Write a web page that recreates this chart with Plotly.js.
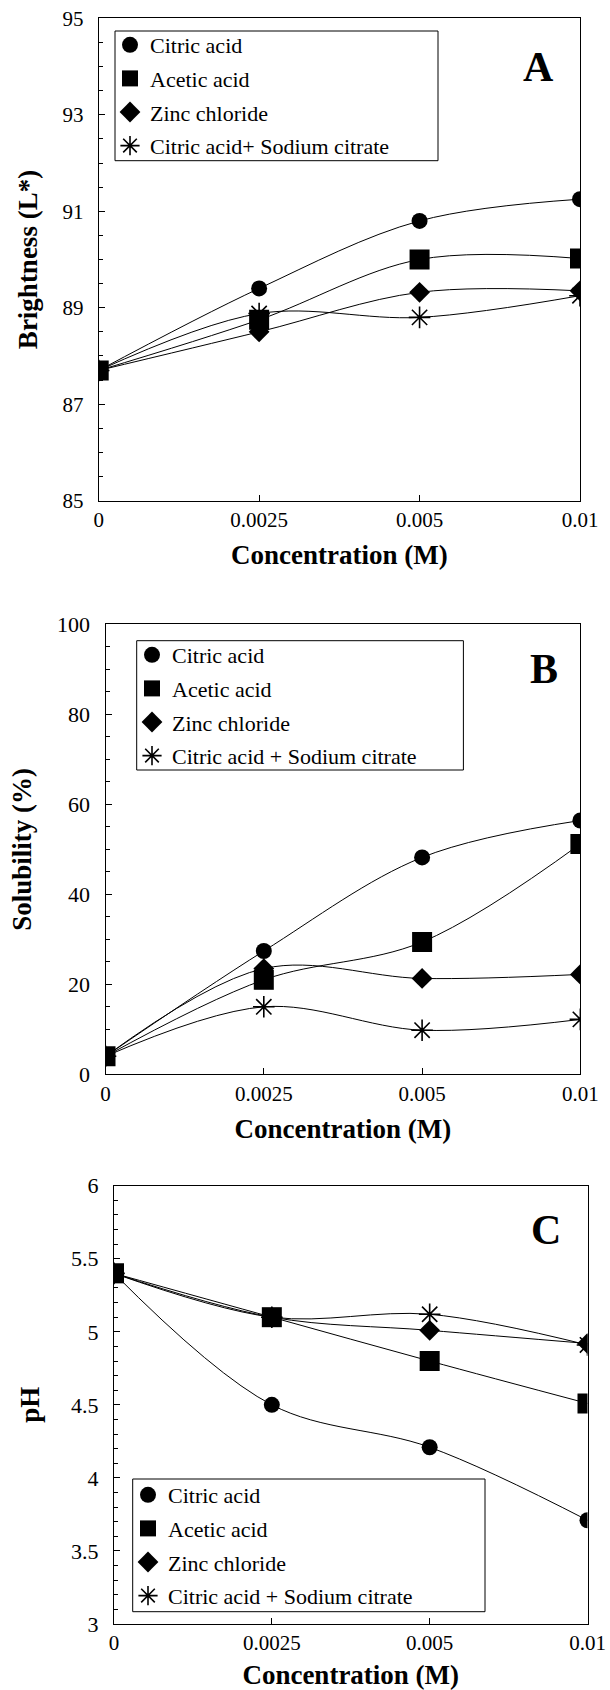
<!DOCTYPE html>
<html>
<head>
<meta charset="utf-8">
<script src="https://cdn.plot.ly/plotly-3.0.1.min.js"></script>
<style>html,body{margin:0;padding:0;background:#fff;}#chart{width:610px;height:1690px;}</style>
</head>
<body>
<div id="chart"></div>
<script>
// ---- data ----
const concentrations = ['0', '0.0025', '0.005', '0.01'];
const seriesNames = ['Citric acid', 'Acetic acid', 'Zinc chloride', 'Citric acid + Sodium citrate'];
const seriesNamesA = ['Citric acid', 'Acetic acid', 'Zinc chloride', 'Citric acid+ Sodium citrate'];

// Panel A: Brightness (L*)
const brightCitric = [87.7, 89.4, 90.8, 91.25];
const brightAcetic = [87.7, 88.75, 90.0, 90.02];
const brightZinc   = [87.7, 88.5, 89.32, 89.35];
const brightCitrate = [87.7, 88.88, 88.8, 89.25];

// Panel B: Solubility (%)
const solCitric = [4, 27.4, 48.2, 56.4];
const solAcetic = [4, 21, 29.4, 51.2];
const solZinc   = [4, 23.5, 21.3, 22.2];
const solCitrate = [4, 15, 9.8, 12.2];

// Panel C: pH
const phCitric = [5.4, 4.5, 4.21, 3.71];
const phAcetic = [5.4, 5.1, 4.8, 4.51];
const phZinc   = [5.4, 5.1, 5.01, 4.92];
const phCitrate = [5.4, 5.1, 5.12, 4.91];

const yTicksA = [85, 87, 89, 91, 93, 95];
const yTicksB = [0, 20, 40, 60, 80, 100];
const yTicksC = [3, 3.5, 4, 4.5, 5, 5.5, 6];

// ---- styling ----
const FONT = 'Liberation Serif';
const W = 610, H = 1690;
const px = v => v / W;
const py = v => 1 - v / H;

const markerStyles = [
  {symbol: 'circle', size: 16, color: '#000'},
  {symbol: 'square', size: 20, color: '#000'},
  {symbol: 'diamond', size: 16, color: '#000'},
  {symbol: 'asterisk-open', size: 18, color: '#000', line: {color: '#000', width: 1.6}}
];
// draw order for markers: circle, diamond, star, square (square on top)
const drawOrder = [0, 2, 3, 1];

const panels = [
  {xa: 'x', ya: 'y', legend: 'legend', names: seriesNamesA, data: [brightCitric, brightAcetic, brightZinc, brightCitrate]},
  {xa: 'x2', ya: 'y2', legend: 'legend2', names: seriesNames, data: [solCitric, solAcetic, solZinc, solCitrate]},
  {xa: 'x3', ya: 'y3', legend: 'legend3', names: seriesNames, data: [phCitric, phAcetic, phZinc, phCitrate]}
];

const traces = [];
panels.forEach(p => {
  p.data.forEach((ys, i) => {
    traces.push({
      x: concentrations, y: ys, xaxis: p.xa, yaxis: p.ya,
      mode: 'lines', line: {color: '#000', width: 1, shape: 'spline', smoothing: 1},
      showlegend: false, hoverinfo: 'skip'
    });
  });
  drawOrder.forEach(i => {
    traces.push({
      x: concentrations, y: p.data[i], xaxis: p.xa, yaxis: p.ya,
      mode: 'markers', name: p.names[i], marker: markerStyles[i],
      legend: p.legend, legendgroup: p.legend + '_' + i, legendrank: i + 1, showlegend: true
    });
  });
});

function xAxis(domain, anchor) {
  return {
    domain: domain, anchor: anchor, type: 'category', range: [0, 3],
    showline: true, mirror: true, linecolor: '#000', linewidth: 1,
    ticks: 'inside', ticklen: 6, tickcolor: '#000', showgrid: false, zeroline: false,
    tickfont: {family: FONT, size: 21, color: '#000'}, ticklabelstandoff: 0,
    title: {text: 'Concentration (M)', font: {family: FONT, size: 27, color: '#000', weight: 'bold'}, standoff: 14},
    automargin: false
  };
}
function yAxis(domain, anchor, range, tickvals, minorDtick, title, standoff, size) {
  return {
    domain: domain, anchor: anchor, range: range, tickmode: 'array', tickvals: tickvals,
    showline: true, mirror: true, linecolor: '#000', linewidth: 1,
    ticks: 'inside', ticklen: 6, tickcolor: '#000', showgrid: false, zeroline: false,
    minor: {dtick: minorDtick, ticks: 'inside', ticklen: 4, tickcolor: '#000', showgrid: false},
    tickfont: {family: FONT, size: size, color: '#000'}, ticklabelstandoff: 10,
    title: {text: title, font: {family: FONT, size: 27, color: '#000', weight: 'bold'}, standoff: standoff},
    automargin: false
  };
}

function legendAt(x, y) {
  return {
    x: px(x), y: py(y), xanchor: 'left', yanchor: 'top', xref: 'paper', yref: 'paper',
    bgcolor: 'rgba(0,0,0,0)', borderwidth: 0,
    font: {family: FONT, size: 22, color: '#000'},
    traceorder: 'grouped', tracegroupgap: 2, itemclick: false
  };
}

const layout = {
  width: W, height: H, margin: {l: 0, r: 0, t: 0, b: 0},
  paper_bgcolor: '#fff', plot_bgcolor: '#fff', showlegend: true,
  font: {family: FONT, color: '#000'},
  xaxis: xAxis([px(98.7), px(580)], 'y'),
  yaxis: yAxis([py(500.7), py(18.3)], 'x', [85, 95], yTicksA, 0.5, 'Brightness (L*)', 17, 21),
  xaxis2: xAxis([px(105.5), px(580.4)], 'y2'),
  yaxis2: yAxis([py(1074.3), py(624.3)], 'x2', [0, 100], yTicksB, 5, 'Solubility (%)', 17, 22),
  xaxis3: xAxis([px(114), px(587.5)], 'y3'),
  yaxis3: yAxis([py(1624), py(1185.7)], 'x3', [3, 6], yTicksC, 0.1, 'pH', 23, 22),
  legend: legendAt(110, 24),
  legend2: legendAt(132, 634),
  legend3: legendAt(128, 1474),
  shapes: [
    {type: 'rect', xref: 'paper', yref: 'paper', x0: px(115), x1: px(438), y0: py(160.7), y1: py(31), line: {color: '#000', width: 1}, fillcolor: 'rgba(0,0,0,0)', layer: 'below'},
    {type: 'rect', xref: 'paper', yref: 'paper', x0: px(136.7), x1: px(463.4), y0: py(770), y1: py(640.7), line: {color: '#000', width: 1}, fillcolor: 'rgba(0,0,0,0)', layer: 'below'},
    {type: 'rect', xref: 'paper', yref: 'paper', x0: px(132.7), x1: px(485), y0: py(1611.7), y1: py(1479), line: {color: '#000', width: 1}, fillcolor: 'rgba(0,0,0,0)', layer: 'below'}
  ],
  annotations: [
    {text: 'A', x: px(538.6), y: py(67), xref: 'paper', yref: 'paper', showarrow: false, xanchor: 'center', yanchor: 'middle', font: {family: FONT, size: 42, color: '#000', weight: 'bold'}},
    {text: 'B', x: px(543.6), y: py(668.8), xref: 'paper', yref: 'paper', showarrow: false, xanchor: 'center', yanchor: 'middle', font: {family: FONT, size: 42, color: '#000', weight: 'bold'}},
    {text: 'C', x: px(545.7), y: py(1230), xref: 'paper', yref: 'paper', showarrow: false, xanchor: 'center', yanchor: 'middle', font: {family: FONT, size: 42, color: '#000', weight: 'bold'}}
  ]
};

Plotly.newPlot('chart', traces, layout, {staticPlot: true, displayModeBar: false});
</script>
</body>
</html>
